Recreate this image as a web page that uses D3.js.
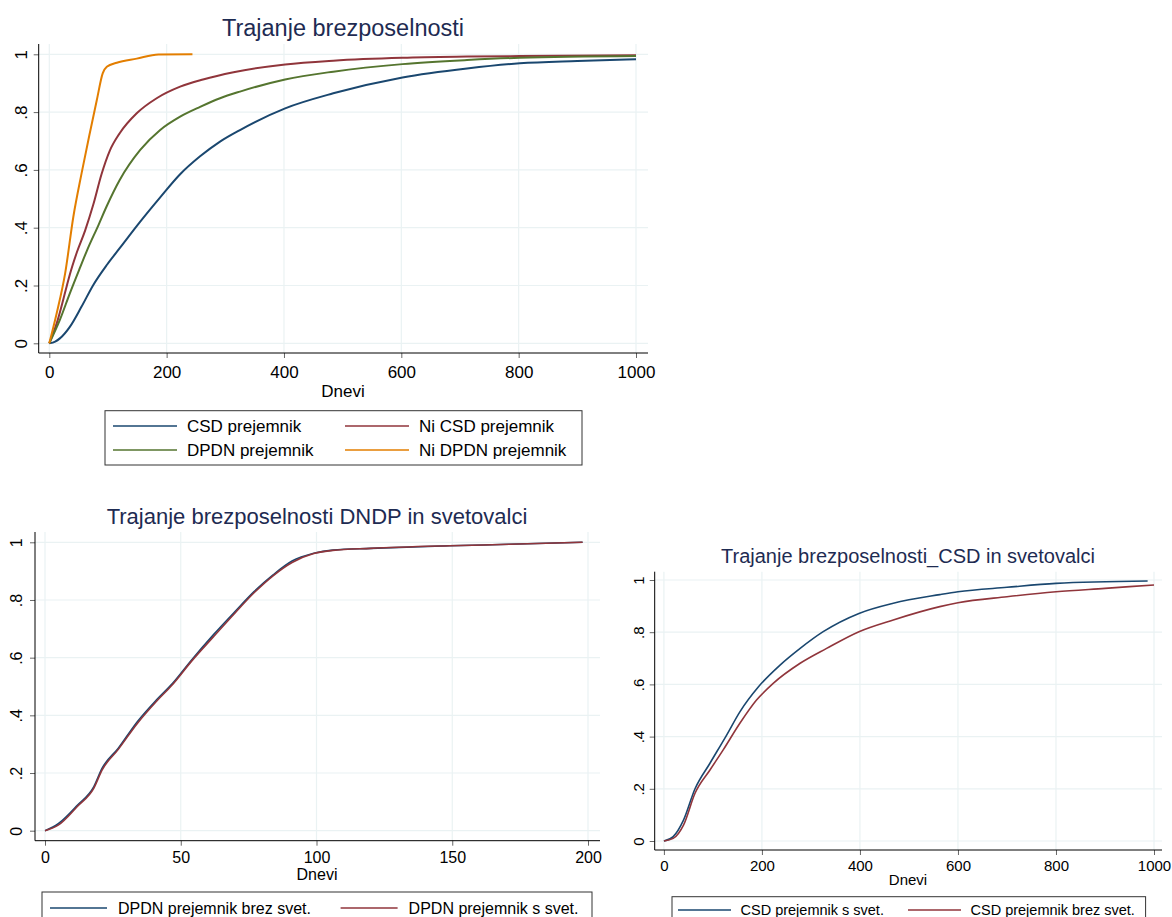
<!DOCTYPE html>
<html>
<head>
<meta charset="utf-8">
<script src="https://cdn.jsdelivr.net/npm/d3@7"></script>
<style>
  body { margin: 0; background: #fff; }
  svg text { font-family: "Liberation Sans", Arial, sans-serif; }
</style>
</head>
<body>
<div id="vis"></div>
<script>
// tick values / labels
var yTicks = [0, 0.2, 0.4, 0.6, 0.8, 1];
var yTickLabels = ["0", ".2", ".4", ".6", ".8", "1"];
var daysTicks = [0, 200, 400, 600, 800, 1000];
var dndpTicks = [0, 50, 100, 150, 200];

// top chart: cumulative share leaving unemployment, by day
var csdDays = [0, 10, 18, 35, 55, 75, 98, 120, 155, 189, 223, 257, 291, 325, 402, 484, 602, 712, 802, 900, 1000];
var csdVals = [0, 0.006, 0.017, 0.057, 0.127, 0.202, 0.271, 0.329, 0.421, 0.505, 0.585, 0.647, 0.698, 0.738, 0.813, 0.865, 0.92, 0.951, 0.969, 0.977, 0.983];
var niCsdDays = [0, 12.6, 30, 35, 47, 61, 75, 89, 103, 120, 149, 183, 223, 262, 314, 402, 484, 602, 712, 802, 1000];
var niCsdVals = [0, 0.069, 0.2, 0.238, 0.315, 0.39, 0.48, 0.585, 0.666, 0.727, 0.796, 0.848, 0.888, 0.913, 0.938, 0.965, 0.978, 0.988, 0.992, 0.994, 0.997];
var dpdnDays = [0, 18, 35, 52, 64, 84, 98, 120, 155, 189, 223, 257, 291, 325, 402, 484, 602, 712, 802, 1000];
var dpdnVals = [0, 0.081, 0.173, 0.26, 0.32, 0.41, 0.475, 0.565, 0.669, 0.738, 0.784, 0.818, 0.848, 0.871, 0.913, 0.94, 0.966, 0.98, 0.988, 0.994];
var niDpdnDays = [0, 12.6, 27, 41, 55, 69, 81, 91, 98, 115, 149, 186, 244];
var niDpdnVals = [0, 0.104, 0.242, 0.438, 0.588, 0.727, 0.842, 0.934, 0.957, 0.971, 0.985, 0.999, 1];

// bottom left: DPDN recipients with / without counselling
var dndpDays = [0, 5, 12, 18, 21, 27, 34, 41, 47, 54, 62, 70, 77, 84, 91, 99, 106, 120, 149, 171, 198];
var dndpBrezVals = [0, 0.025, 0.089, 0.153, 0.216, 0.286, 0.378, 0.453, 0.511, 0.592, 0.679, 0.76, 0.829, 0.887, 0.935, 0.962, 0.973, 0.979, 0.988, 0.993, 1.0];
var dndpSVals = [0, 0.02, 0.085, 0.148, 0.21, 0.282, 0.372, 0.448, 0.507, 0.588, 0.672, 0.755, 0.825, 0.884, 0.93, 0.961, 0.972, 0.979, 0.988, 0.993, 1.0];

// bottom right: CSD recipients with / without counselling
var csdSDays = [0, 19, 40, 63.5, 94, 128, 155, 193, 237, 278, 325, 398, 468, 563, 600, 700, 800, 987];
var csdSVals = [0, 0.017, 0.08, 0.2, 0.298, 0.406, 0.495, 0.591, 0.674, 0.738, 0.802, 0.872, 0.911, 0.944, 0.955, 0.972, 0.987, 0.996];
var csdBrezDays = [0, 19, 40, 63.5, 94, 121, 155, 189, 223, 278, 332, 398, 468, 563, 600, 700, 800, 900, 1000];
var csdBrezVals = [0, 0.01, 0.061, 0.183, 0.272, 0.349, 0.451, 0.54, 0.604, 0.681, 0.738, 0.802, 0.847, 0.898, 0.913, 0.936, 0.955, 0.968, 0.981];

var navy = "#1a476f", maroon = "#90353b", green = "#55752f", orange = "#e37e00";
var titleColor = "#1e2b52";

function zip(xs, ys) {
    return xs.map((d, i) => ({ x: d, y: ys[i] }));
}

var svg = d3.select("#vis").append("svg").attr("width", 1172).attr("height", 917);

//draw one stata-like panel
function drawPanel(c) {
    var g = svg.append("g");
    var x = d3.scaleLinear().domain(c.xDomain).range(c.xRange);
    var y = d3.scaleLinear().domain([0, 1]).range(c.yRange);

    //grid
    g.selectAll(".vg").data(c.xTicks).enter().append("line")
        .attr("x1", d => x(d)).attr("x2", d => x(d))
        .attr("y1", c.top).attr("y2", c.bottom)
        .attr("stroke", "#eaf2f3").attr("stroke-width", 1.2);
    g.selectAll(".hg").data(yTicks).enter().append("line")
        .attr("x1", c.left).attr("x2", c.right)
        .attr("y1", d => y(d)).attr("y2", d => y(d))
        .attr("stroke", "#eaf2f3").attr("stroke-width", 1.2);

    //series
    var line = d3.line().curve(d3.curveMonotoneX).x(d => x(d.x)).y(d => y(d.y));
    c.series.forEach(s => {
        g.append("path").datum(zip(s.days, s.vals))
            .attr("d", line).attr("fill", "none")
            .attr("stroke", s.color).attr("stroke-width", c.lw)
            .attr("stroke-linejoin", "round");
    });

    //x axis
    var xa = g.append("g").attr("transform", "translate(0," + c.bottom + ")")
        .call(d3.axisBottom(x).tickValues(c.xTicks).tickSize(5).tickFormat(d3.format("d")));
    xa.select(".domain").remove();
    xa.selectAll(".tick line").attr("stroke", "#666");
    xa.selectAll("text").attr("y", c.tickBase - c.bottom).attr("dy", null)
        .attr("font-size", c.fs).attr("fill", "#000");

    //y axis
    var ya = g.append("g").attr("transform", "translate(" + c.left + ",0)")
        .call(d3.axisLeft(y).tickValues(yTicks).tickSize(5).tickFormat((d, i) => yTickLabels[i]));
    ya.select(".domain").remove();
    ya.selectAll(".tick line").attr("stroke", "#666");
    ya.selectAll("text").attr("x", null).attr("dy", null)
        .attr("text-anchor", "middle").attr("font-size", c.fs).attr("fill", "#000")
        .attr("transform", "translate(" + (c.yLabBase - c.left) + ",0) rotate(-90)");

    //axis lines
    g.append("line").attr("x1", c.left).attr("x2", c.right).attr("y1", c.bottom).attr("y2", c.bottom)
        .attr("stroke", "#000").attr("stroke-width", 1);
    g.append("line").attr("x1", c.left).attr("x2", c.left).attr("y1", c.top).attr("y2", c.bottom)
        .attr("stroke", "#000").attr("stroke-width", 1);

    //titles
    g.append("text").attr("x", c.titleX).attr("y", c.titleY).attr("text-anchor", "middle")
        .attr("font-size", c.titleFs).attr("fill", titleColor).text(c.title);
    g.append("text").attr("x", c.titleX).attr("y", c.xLabY).attr("text-anchor", "middle")
        .attr("font-size", c.fs).attr("fill", "#000").text("Dnevi");

    //legend
    var L = c.legend;
    g.append("rect").attr("x", L.x).attr("y", L.y).attr("width", L.w).attr("height", L.h)
        .attr("fill", "#fff").attr("stroke", "#333").attr("stroke-width", 1);
    L.items.forEach(it => {
        g.append("line").attr("x1", it.x).attr("x2", it.x + L.len).attr("y1", it.y).attr("y2", it.y)
            .attr("stroke", it.color).attr("stroke-width", 1.3);
        g.append("text").attr("x", it.x + L.off).attr("y", it.y + L.fs * 0.36)
            .attr("font-size", L.fs).attr("fill", "#000").text(it.label);
    });
}

drawPanel({
    xDomain: [0, 1000], xRange: [49.3, 636], yRange: [343.3, 54.3],
    left: 38.7, right: 648, top: 44, bottom: 353, xTicks: daysTicks,
    lw: 2, fs: 17, tickBase: 378, yLabBase: 27, xLabY: 397,
    title: "Trajanje brezposelnosti", titleX: 343, titleY: 36, titleFs: 23.5,
    series: [
        { days: csdDays, vals: csdVals, color: navy },
        { days: niCsdDays, vals: niCsdVals, color: maroon },
        { days: dpdnDays, vals: dpdnVals, color: green },
        { days: niDpdnDays, vals: niDpdnVals, color: orange }
    ],
    legend: {
        x: 105, y: 410.7, w: 477, h: 54.3, len: 64, off: 74, fs: 17,
        items: [
            { x: 113, y: 426, color: navy, label: "CSD prejemnik" },
            { x: 345, y: 426, color: maroon, label: "Ni CSD prejemnik" },
            { x: 113, y: 450, color: green, label: "DPDN prejemnik" },
            { x: 345, y: 450, color: orange, label: "Ni DPDN prejemnik" }
        ]
    }
});

drawPanel({
    xDomain: [0, 200], xRange: [45, 588], yRange: [830.7, 542.3],
    left: 35, right: 600, top: 532, bottom: 840.7, xTicks: dndpTicks,
    lw: 1.6, fs: 16, tickBase: 863, yLabBase: 22, xLabY: 880,
    title: "Trajanje brezposelnosti DNDP in svetovalci", titleX: 317, titleY: 524, titleFs: 22,
    series: [
        { days: dndpDays, vals: dndpBrezVals, color: navy },
        { days: dndpDays, vals: dndpSVals, color: maroon }
    ],
    legend: {
        x: 42, y: 892, w: 550, h: 40, len: 57, off: 68, fs: 16,
        items: [
            { x: 50, y: 908, color: navy, label: "DPDN prejemnik brez svet." },
            { x: 340.6, y: 908, color: maroon, label: "DPDN prejemnik s svet." }
        ]
    }
});

drawPanel({
    xDomain: [0, 1000], xRange: [663.9, 1154], yRange: [841, 580],
    left: 654.7, right: 1162, top: 571.7, bottom: 850, xTicks: daysTicks,
    lw: 1.6, fs: 15, tickBase: 870.5, yLabBase: 644, xLabY: 885,
    title: "Trajanje brezposelnosti_CSD in svetovalci", titleX: 908, titleY: 563, titleFs: 20,
    series: [
        { days: csdSDays, vals: csdSVals, color: navy },
        { days: csdBrezDays, vals: csdBrezVals, color: maroon }
    ],
    legend: {
        x: 672, y: 896.7, w: 473.6, h: 40, len: 53, off: 62.5, fs: 14.5,
        items: [
            { x: 678, y: 910, color: navy, label: "CSD prejemnik s svet." },
            { x: 908, y: 910, color: maroon, label: "CSD prejemnik brez svet." }
        ]
    }
});
</script>
</body>
</html>
